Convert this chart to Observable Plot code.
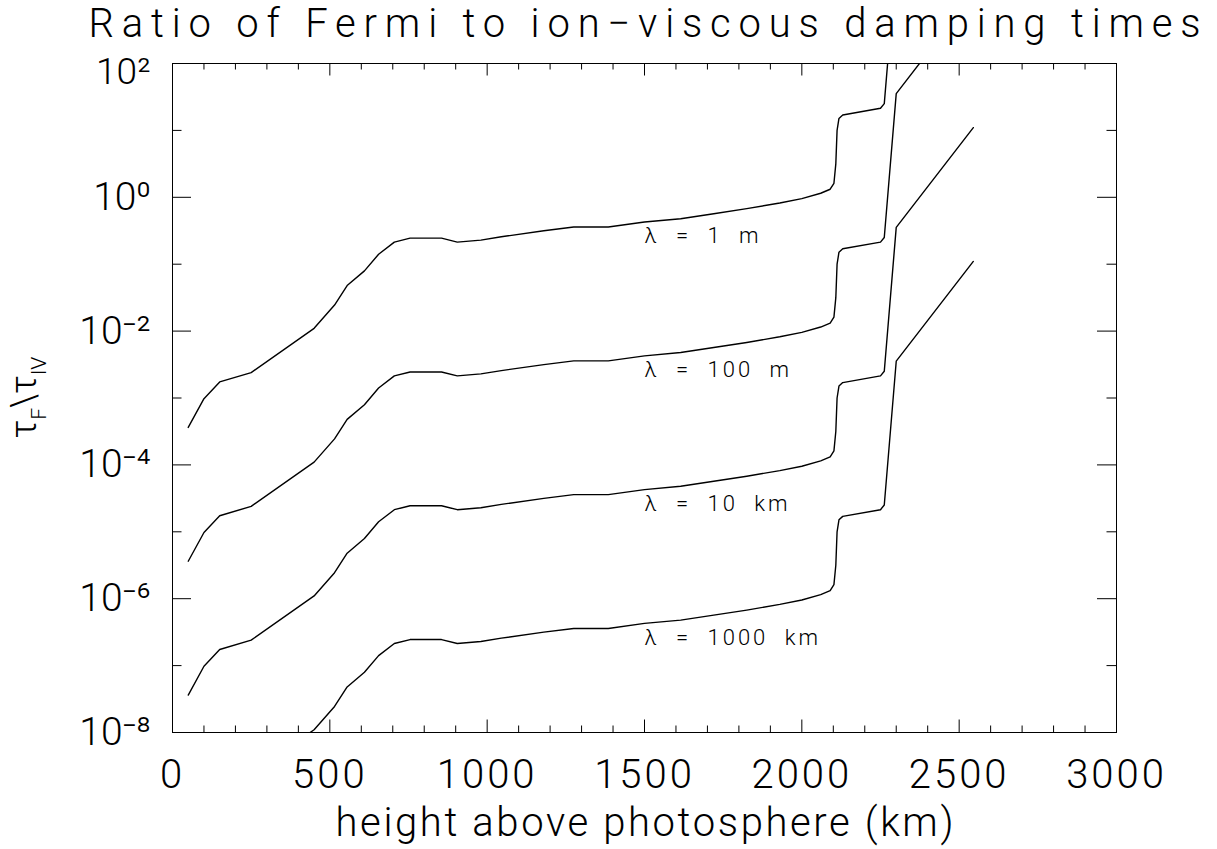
<!DOCTYPE html>
<html>
<head>
<meta charset="utf-8">
<script src="https://cdn.jsdelivr.net/npm/d3@7"></script>
<script src="https://cdn.jsdelivr.net/npm/@observablehq/plot@0.6"></script>
<style>
  html, body { margin: 0; padding: 0; background: #fff; }
  #chart svg { display: block; }
</style>
</head>
<body>
<div id="chart"></div>
<script>
// ---- data ----
const heights = [50, 100, 150, 250, 450, 515, 555, 610, 655, 705, 755, 855, 905, 980, 1045, 1180, 1275, 1385, 1500, 1615, 1720, 1825, 1930, 2000, 2060, 2090, 2102, 2108, 2112, 2118, 2130, 2250, 2262, 2300, 2545];

const ratio1m = [3.63e-4, 9.77e-4, 1.74e-3, 2.40e-3, 1.10e-2, 2.45e-2, 4.79e-2, 7.94e-2, 0.141, 0.214, 0.245, 0.245, 0.214, 0.229, 0.257, 0.316, 0.359, 0.359, 0.427, 0.479, 0.569, 0.676, 0.822, 0.955, 1.15, 1.32, 1.62, 3.16, 10.0, 15.1, 17.0, 21.4, 25.1, 3550, 1.10e5];
const ratio100m = [3.63e-6, 9.77e-6, 1.74e-5, 2.40e-5, 1.10e-4, 2.45e-4, 4.79e-4, 7.94e-4, 1.41e-3, 2.14e-3, 2.45e-3, 2.45e-3, 2.14e-3, 2.29e-3, 2.57e-3, 3.16e-3, 3.59e-3, 3.59e-3, 4.27e-3, 4.79e-3, 5.69e-3, 6.76e-3, 8.22e-3, 9.55e-3, 1.15e-2, 1.32e-2, 1.62e-2, 3.16e-2, 0.100, 0.151, 0.170, 0.214, 0.251, 35.5, 1.10e3];
const ratio10km = [3.63e-8, 9.77e-8, 1.74e-7, 2.40e-7, 1.10e-6, 2.45e-6, 4.79e-6, 7.94e-6, 1.41e-5, 2.14e-5, 2.45e-5, 2.45e-5, 2.14e-5, 2.29e-5, 2.57e-5, 3.16e-5, 3.59e-5, 3.59e-5, 4.27e-5, 4.79e-5, 5.69e-5, 6.76e-5, 8.22e-5, 9.55e-5, 1.15e-4, 1.32e-4, 1.62e-4, 3.16e-4, 1.00e-3, 1.51e-3, 1.70e-3, 2.14e-3, 2.51e-3, 0.355, 11.0];
const ratio1000km = [3.63e-10, 9.77e-10, 1.74e-9, 2.40e-9, 1.10e-8, 2.45e-8, 4.79e-8, 7.94e-8, 1.41e-7, 2.14e-7, 2.45e-7, 2.45e-7, 2.14e-7, 2.29e-7, 2.57e-7, 3.16e-7, 3.59e-7, 3.59e-7, 4.27e-7, 4.79e-7, 5.69e-7, 6.76e-7, 8.22e-7, 9.55e-7, 1.15e-6, 1.32e-6, 1.62e-6, 3.16e-6, 1.00e-5, 1.51e-5, 1.70e-5, 2.14e-5, 2.51e-5, 3.55e-3, 0.110];

const seriesNames = ["λ = 1 m", "λ = 100 m", "λ = 10 km", "λ = 1000 km"];
const labelX = [1500, 1500, 1500, 1500];
const labelY = [0.26, 2.6e-3, 2.6e-5, 2.6e-7];

const xMajorTicks = [0, 500, 1000, 1500, 2000, 2500, 3000];
const xMinorTicks = [100, 200, 300, 400, 600, 700, 800, 900, 1100, 1200, 1300, 1400, 1600, 1700, 1800, 1900, 2100, 2200, 2300, 2400, 2600, 2700, 2800, 2900];
const yMajorTicks = [1e-8, 1e-6, 1e-4, 1e-2, 1, 1e2];
const yMinorTicks = [1e-7, 1e-5, 1e-3, 1e-1, 1e1];
const yTickLabels = ["10⁻⁸", "10⁻⁶", "10⁻⁴", "10⁻²", "10⁰", "10²"];

const titleText = "Ratio of Fermi to ion−viscous damping times";
const xLabelText = "height above photosphere (km)";

// ---- build table ----
const allSeries = [ratio1m, ratio100m, ratio10km, ratio1000km];
const rows = allSeries.flatMap((vals, i) => heights.map((h, j) => ({h, v: vals[j], series: seriesNames[i]})));
const labelRows = seriesNames.map((name, i) => ({name, x: labelX[i], y: labelY[i]}));
const yLabelRows = yMajorTicks.map((v, i) => ({v, label: yTickLabels[i]}));
const yLabelTop = yLabelRows.filter(d => d.v === 1e2);
const yLabelRest = yLabelRows.filter(d => d.v !== 1e2);

const W = 1217, H = 849, mL = 172, mR = 101, mT = 63, mB = 117;
const pw = W - mL - mR, ph = H - mT - mB;
const FONT = "Roboto, 'Open Sans', Lato, 'DejaVu Sans', sans-serif";

const chart = Plot.plot({
  width: W, height: H,
  marginLeft: mL, marginRight: mR, marginTop: mT, marginBottom: mB,
  x: {type: "linear", domain: [0, 3000], axis: null},
  y: {type: "log", domain: [1e-8, 1e2], axis: null},
  style: {fontFamily: FONT, background: "white", color: "black"},
  marks: [
    Plot.frame({stroke: "black", strokeWidth: 1}),
    // bottom ticks
    Plot.ruleX(xMajorTicks, {x: d => d, insetTop: ph - 12.5, stroke: "black"}),
    Plot.ruleX(xMinorTicks, {x: d => d, insetTop: ph - 6.5, stroke: "black"}),
    // top ticks
    Plot.ruleX(xMajorTicks, {x: d => d, insetBottom: ph - 12.5, stroke: "black"}),
    Plot.ruleX(xMinorTicks, {x: d => d, insetBottom: ph - 6.5, stroke: "black"}),
    // left ticks
    Plot.ruleY(yMajorTicks, {y: d => d, insetRight: pw - 19, stroke: "black"}),
    Plot.ruleY(yMinorTicks, {y: d => d, insetRight: pw - 9.5, stroke: "black"}),
    // right ticks
    Plot.ruleY(yMajorTicks, {y: d => d, insetLeft: pw - 19, stroke: "black"}),
    Plot.ruleY(yMinorTicks, {y: d => d, insetLeft: pw - 9.5, stroke: "black"}),
    // curves
    Plot.line(rows, {x: "h", y: "v", z: "series", stroke: "black", strokeWidth: 1.4, clip: true}),
    // curve labels
    Plot.text(labelRows, {x: "x", y: "y", text: "name", textAnchor: "start", lineAnchor: "middle", fontSize: 22, fontWeight: 300}),
    // x tick labels
    Plot.text(xMajorTicks, {x: d => d, frameAnchor: "bottom", lineAnchor: "middle", dy: 43, text: d => String(d), fontSize: 40, fontWeight: 300}),
    // y tick labels
    Plot.text(yLabelRest, {y: "v", frameAnchor: "left", textAnchor: "end", lineAnchor: "middle", dx: -22, text: "label", fontSize: 39, fontWeight: 300}),
    Plot.text(yLabelTop, {y: "v", frameAnchor: "left", textAnchor: "end", lineAnchor: "middle", dx: -22, dy: 9, text: "label", fontSize: 37, fontWeight: 300}),
    // axis title
    Plot.text([xLabelText], {frameAnchor: "bottom", lineAnchor: "middle", dy: 91, text: d => d, fontSize: 40, fontWeight: 300}),
    // chart title
    Plot.text([titleText], {frameAnchor: "top", lineAnchor: "middle", dy: -39, text: d => d, fontSize: 40, fontWeight: 300})
  ]
});

document.getElementById("chart").appendChild(chart);

const svg = d3.select(chart);
svg.selectAll("text").each(function() {
  const t = this.textContent;
  const el = d3.select(this);
  if (t === titleText) el.attr("textLength", 1112).attr("lengthAdjust", "spacing");
  else if (t === xLabelText) el.attr("textLength", 618).attr("lengthAdjust", "spacing");
  else if (seriesNames.includes(t)) el.style("letter-spacing", "3px").style("word-spacing", "8px");
  else if (xMajorTicks.map(String).includes(t)) el.style("letter-spacing", "3px");
});

// y-axis title with subscripts
const yt = svg.append("text")
  .attr("transform", `translate(36, ${mT + ph / 2}) rotate(-90)`)
  .attr("text-anchor", "middle")
  .attr("font-family", FONT)
  .attr("font-weight", 300)
  .attr("font-size", 36)
  .attr("fill", "black");
yt.append("tspan").text("τ");
yt.append("tspan").attr("font-size", 21).attr("dy", 10).text("F");
yt.append("tspan").attr("dy", -10).text("\\");
yt.append("tspan").text("τ");
yt.append("tspan").attr("font-size", 21).attr("dy", 10).text("IV");
</script>
</body>
</html>
